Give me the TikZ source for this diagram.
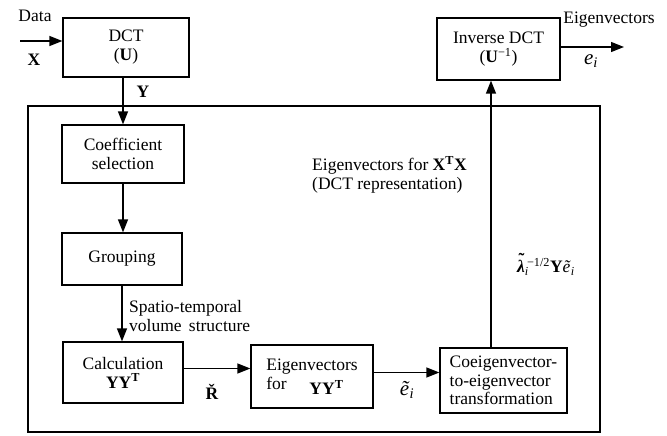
\documentclass[tikz,border=0pt]{standalone}
\usepackage{fontspec}
\setmainfont{Liberation Serif}
\usetikzlibrary{arrows.meta}
\newcommand{\tldlam}{\textbf{\textit{λ}}\llap{\raisebox{0.42em}{\textbf{\char"02DC}}\kern0.6pt}}
\begin{document}
\begin{tikzpicture}[x=1pt,y=-1pt,
  every node/.style={font=\rmfamily\fontsize{17.5}{19}\selectfont, inner sep=0pt},
  blk/.style={draw, line width=1.3pt, align=center},
  arr/.style={line width=1.3pt, -{Triangle[length=13pt,width=10pt]}},
  lbl/.style={align=left, anchor=west}]
\useasboundingbox (0,0) rectangle (667,436);

% outer frame
\node[draw, line width=1.1pt, minimum width=572pt, minimum height=326pt] (frame) at (314,269) {};

% blocks
\node[blk, minimum width=126pt, minimum height=59pt] (dct) at (126,47.5) {DCT\\(\textbf{U})};
\node[blk, minimum width=123pt, minimum height=62pt] (inv) at (498.5,49) {Inverse DCT\\(\textbf{U}\textsuperscript{−1})};
\node[blk, minimum width=122pt, minimum height=58pt] (coef) at (123,154) {Coefficient\\selection};
\node[blk, minimum width=120pt, minimum height=52pt] (group) at (122,259) {Grouping};
\node[blk, minimum width=120pt, minimum height=61pt] (calc) at (123,372.5) {Calculation\\\textbf{YY}\textsuperscript{\textbf{T}}};
\node[blk, align=left, minimum width=122pt, minimum height=63pt] (eig) at (312,376.5) {Eigenvectors\\for\hspace{1.3em}\raisebox{-5pt}{\textbf{YY}\textsuperscript{\textbf{T}}}};
\node[blk, align=left, minimum width=127pt, minimum height=65pt, font=\rmfamily\fontsize{17.5}{18.5}\selectfont] (coei) at (503.5,380.5) {Coeigenvector-\\to-eigenvector\\transformation};

% connectors
\coordinate (in) at (20,41);
\coordinate (out) at (624,47);
\draw[arr] (in) -- (in -| dct.west);
\draw[arr] (coef.north |- dct.south) -- (coef.north);
\draw[arr] (coef.south) -- (coef.south |- group.north);
\draw[arr] (group.south) -- (group.south |- calc.north);
\draw[arr] ([yshift=4pt]calc.east) -- ([yshift=4pt]calc.east -| eig.west);
\draw[arr] ([yshift=4pt]eig.east) -- ([yshift=4pt]eig.east -| coei.west);
\draw[arr] ([xshift=-12.5pt]coei.north) -- ([xshift=-12.5pt]coei.north |- inv.south);
\draw[arr] (inv.east |- out) -- (out);

% labels
\node (ldata) at (35,16) {Data};
\node (lx) at (34,60) {\textbf{X}};
\node (ly) at (143,92) {\textbf{Y}};
\node (leig) at (609,20) {Eigenvectors};
\node (lei) at (591,61) {\fontsize{21}{21}\selectfont\textit{e}\textsubscript{\textit{i}}};
\node[lbl] (lxtx) at (312,175) {Eigenvectors for \textbf{X}\textsuperscript{\textbf{T}}\textbf{X}\\(DCT representation)};
\node[lbl] (lspt) at (129,316) {Spatio-temporal\\volume\, structure};
\node (lr) at (212,392) {\textbf{\v{R}}};
\node (let) at (407,390) {\fontsize{21}{21}\selectfont\textit{ẽ}\textsubscript{\textit{i}}};
\node[lbl] (llam) at (517,264) {\tldlam\rlap{\textsubscript{\textit{i}}}\textsuperscript{\,−1/2}\textbf{Y}\textit{ẽ}\textsubscript{\textit{i}}};
\end{tikzpicture}
\end{document}
